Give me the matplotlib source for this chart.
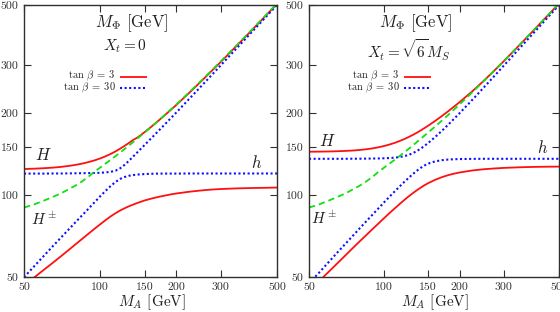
import matplotlib
matplotlib.use("Agg")
import matplotlib.pyplot as plt
from matplotlib.ticker import FixedLocator, FixedFormatter, NullLocator
from matplotlib.lines import Line2D

plt.rcParams['mathtext.fontset'] = 'cm'
plt.rcParams['font.family'] = ['cmr10', 'DejaVu Serif']
plt.rcParams['axes.unicode_minus'] = False

# ---- data ----
MA = [50, 55, 60, 65, 70, 75, 80, 85, 90, 95, 100, 105, 110, 115, 120, 125, 130,
      135, 140, 145, 150, 160, 170, 180, 190, 200, 225, 250, 275, 300, 350, 400, 450, 500]

# charged Higgs (same in both panels)
Hpm = [90, 92.5, 95.5, 98.5, 101.5, 105, 108.5, 112.5, 117, 122, 126.3, 130.6, 134.8, 139.1,
       143.4, 147.8, 152.2, 156.7, 161.2, 165.6, 170, 178.9, 187.9, 197, 206.2, 215.4, 238.8,
       262.5, 286.4, 310.5, 359, 407.9, 457, 506.4]

# Xt = 0
H_tb3_a = [124.7, 125.1, 125.6, 126.2, 127, 128, 129.2, 130.6, 132.3, 134.2, 136.4, 138.9, 141.7,
           144.8, 148.2, 151.8, 155.6, 159.5, 162.6, 166.5, 170.6, 179, 187.8, 196.7, 205.6, 214.5,
           237.8, 261.3, 285.2, 309, 357.5, 406.3, 455.5, 504.8]
h_tb3_a = [46.3, 49.9, 53.2, 56.4, 59.6, 62.8, 66, 69.1, 72.2, 75.2, 78.1, 80.9, 83.5, 85.8, 87.8,
           89.5, 91, 92.3, 93.5, 94.6, 95.6, 97.2, 98.5, 99.6, 100.6, 101.4, 102.9, 104, 104.8,
           105.3, 105.9, 106.2, 106.4, 106.6]
H_tb30_a = [120, 120, 120, 120.1, 120.1, 120.2, 120.3, 120.4, 120.5, 120.6, 120.8, 121.2, 121.8,
            123, 125.5, 129.3, 133.8, 138.6, 143.4, 148.2, 153, 162.6, 172.2, 181.9, 191.6, 201.3,
            225.9, 250.6, 275.4, 300.3, 350.2, 400.2, 450.1, 500.1]
h_tb30_a = [49.9, 54.9, 59.9, 64.9, 69.8, 74.7, 79.6, 84.4, 89.2, 94.1, 99, 103.6, 108, 111.8,
            114.7, 116.6, 117.8, 118.5, 119, 119.3, 119.5, 119.8, 120, 120, 120, 120, 120.1,
            120.1, 120.1, 120.1, 120.1, 120.1, 120.1, 120.1]

# Xt = sqrt(6) MS
H_tb3_b = [144.4, 144.5, 144.7, 145, 145.4, 145.9, 146.6, 147.5, 148.6, 150, 151.6, 153.5, 155.6,
           158, 160.6, 163.4, 166.4, 169.6, 173, 176.5, 180.1, 187.6, 195.3, 203.3, 211.4, 219.6,
           240.8, 263.2, 286.5, 310, 358.5, 407.5, 456.7, 506]
h_tb3_b = [44.5, 48.4, 52.3, 56.2, 60.1, 64, 67.8, 71.5, 75.2, 78.8, 82.4, 85.9, 89.3, 92.6, 95.8,
           98.8, 101.6, 104.2, 106.6, 108.8, 110.7, 113.9, 116.4, 118.4, 119.9, 121.1, 123.2,
           124.5, 125.3, 125.9, 126.6, 127, 127.2, 127.3]
H_tb30_b = [136, 136, 136, 136, 136, 136.1, 136.1, 136.2, 136.3, 136.4, 136.6, 136.9, 137.3, 138,
            139, 140.5, 142.6, 145.2, 148.3, 151.8, 155.6, 163.7, 172.3, 181.3, 190.6, 200, 224,
            248.6, 273.5, 298.6, 348.8, 399, 449.3, 499.6]
h_tb30_b = [47.4, 52, 56.8, 61.6, 66.3, 71, 75.7, 80.4, 85, 89.6, 94.2, 98.7, 103.1, 107.4, 111.6,
            115.6, 119.4, 122.9, 126, 128.6, 130.6, 133.1, 134.4, 135.1, 135.5, 135.7, 135.9, 136,
            136, 136, 136, 136, 136, 136]

ticks = [50, 100, 150, 200, 300, 500]
tick_labels = ['50', '100', '150', '200', '300', '500']

RED = '#ff1010'
BLUE = '#1010ff'
GREEN = '#10e010'
TXT = '#202020'

fig = plt.figure(figsize=(5.6, 3.12), dpi=100)
axA = fig.add_axes([24 / 560, 1 - 277 / 312, 253 / 560, 272 / 312])
axB = fig.add_axes([309 / 560, 1 - 277 / 312, 250 / 560, 272 / 312])

panels = [
    (axA, H_tb3_a, h_tb3_a, H_tb30_a, h_tb30_a, r'$X_t = 0$',
     dict(H=(0.075, 0.45), Hpm=(0.08, 0.215), h=(0.921, 0.42), title_y=0.85)),
    (axB, H_tb3_b, h_tb3_b, H_tb30_b, h_tb30_b, r'$X_t = \sqrt{6}M_S$',
     dict(H=(0.072, 0.50), Hpm=(0.062, 0.22), h=(0.936, 0.475), title_y=0.835)),
]

red_kw = dict(color=RED, lw=1.3, solid_capstyle='butt')
blue_kw = dict(color=BLUE, lw=1.5, linestyle=(0, (1, 1.2)))
green_kw = dict(color=GREEN, lw=1.3, linestyle=(0, (3.5, 2.2)))

for ax, Hr, hr, Hb, hb, xt_label, pos in panels:
    ax.set_xscale('log')
    ax.set_yscale('log')
    ax.plot(MA, Hr, **red_kw)
    ax.plot(MA, hr, **red_kw)
    ax.plot(MA, Hb, **blue_kw)
    ax.plot(MA, hb, **blue_kw)
    ax.plot(MA, Hpm, **green_kw)
    ax.set_xlim(50, 500)
    ax.set_ylim(50, 500)
    for axis in (ax.xaxis, ax.yaxis):
        axis.set_major_locator(FixedLocator(ticks))
        axis.set_major_formatter(FixedFormatter(tick_labels))
        axis.set_minor_locator(NullLocator())
    ax.tick_params(which='major', direction='in', length=5, width=0.8, top=True, right=True,
                   labelsize=8.5, colors='#303030', pad=4)
    for s in ax.spines.values():
        s.set_linewidth(1.0)
        s.set_color('#303030')
    ax.set_xlabel(r'$M_A$ [GeV]', fontsize=11, color=TXT, labelpad=1)
    ax.xaxis.set_label_coords(0.505, -0.055)
    ax.text(0.425, 0.935, r'$M_\Phi$ [GeV]', transform=ax.transAxes, fontsize=12,
            ha='center', va='center', color=TXT)
    ax.text(0.40, pos['title_y'], xt_label, transform=ax.transAxes, fontsize=11,
            ha='center', va='center', color=TXT)
    ax.text(0.362, 0.739, r'$\tan\,\beta\;=\;3$', transform=ax.transAxes, fontsize=7.5,
            ha='right', va='center', color=TXT)
    ax.text(0.362, 0.695, r'$\tan\,\beta\;=\;30$', transform=ax.transAxes, fontsize=7.5,
            ha='right', va='center', color=TXT)
    ax.add_line(Line2D([0.38, 0.487], [0.737, 0.737], transform=ax.transAxes, **red_kw))
    ax.add_line(Line2D([0.38, 0.487], [0.695, 0.695], transform=ax.transAxes, **blue_kw))
    ax.text(*pos['H'], r'$H$', transform=ax.transAxes, fontsize=12, ha='center', va='center',
            color=TXT)
    ax.text(*pos['Hpm'], r'$H^\pm$', transform=ax.transAxes, fontsize=11, ha='center',
            va='center', color=TXT)
    ax.text(*pos['h'], r'$h$', transform=ax.transAxes, fontsize=12, ha='center', va='center',
            color=TXT)

fig.savefig('out.png', dpi=100)
